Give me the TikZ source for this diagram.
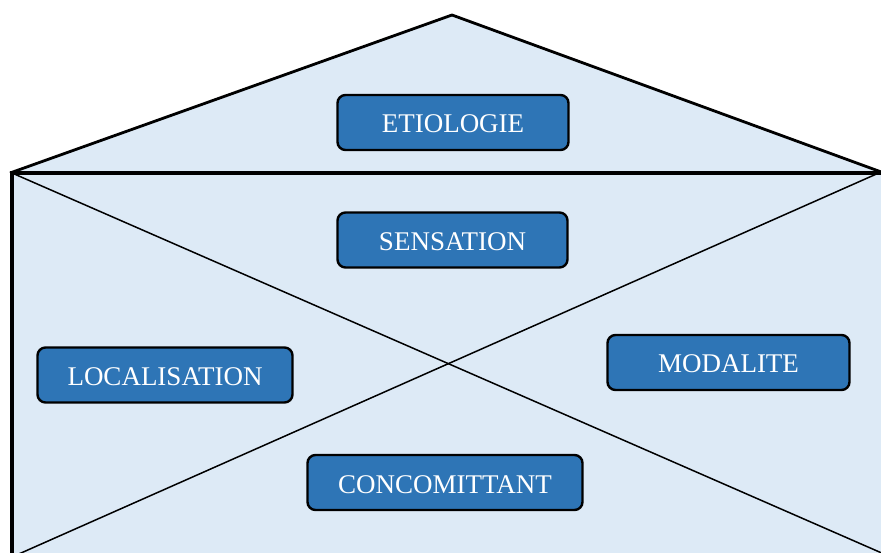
\documentclass[tikz,border=0pt]{standalone}
\usepackage{fontspec}
\setmainfont{Liberation Serif}
\definecolor{wallfill}{HTML}{DDEAF6}
\definecolor{boxfill}{HTML}{2E75B6}
\tikzset{
  label box/.style={draw=black, line width=2.4pt, fill=boxfill, rounded corners=8pt,
    text=white, font=\fontsize{27}{32}\selectfont, inner sep=0pt,
    minimum height=55pt, anchor=center, text depth=0pt, text height=21pt},
  wall line/.style={draw=black, line width=3.4pt},
  roof line/.style={draw=black, line width=2.8pt},
  cross line/.style={draw=black, line width=1.5pt}
}
\begin{document}
\begin{tikzpicture}[x=1pt,y=-1pt]
  \useasboundingbox (0,0) rectangle (881,553);
  \clip (0,0) rectangle (881,553);
  % house outline points
  \coordinate (roofL) at (10,173);
  \coordinate (apex) at (452,15);
  \coordinate (roofR) at (884,173);
  \coordinate (wallTL) at (12,173);
  \coordinate (wallBL) at (12,560);
  \coordinate (crossBR) at (884,554);
  \coordinate (crossBL) at (12,557);
  \coordinate (crossTR) at (881,172);
  % background of roof and wall
  \fill[wallfill] (roofL) -- (apex) -- (roofR) -- (890,173) -- (890,560) -- (wallBL) -- cycle;
  % crossing diagonals
  \draw[cross line] (wallTL) -- (crossBR);
  \draw[cross line] (crossBL) -- (crossTR);
  % wall and roof
  \draw[wall line] (wallBL) -- (wallTL);
  \draw[wall line] (roofL) -- (roofR);
  \draw[roof line, line join=miter] (roofL) -- (apex) -- (roofR);
  % labels
  \node[label box, minimum width=231pt] (etio) at (453,122.5) {ETIOLOGIE};
  \node[label box, minimum width=230pt] (sens) at (452.5,240) {SENSATION};
  \node[label box, minimum width=255pt] (loc) at (165,375) {LOCALISATION};
  \node[label box, minimum width=242pt] (moda) at (728.5,362.5) {MODALITE};
  \node[label box, minimum width=275pt] (conc) at (445,482.5) {CONCOMITTANT};
\end{tikzpicture}
\end{document}
